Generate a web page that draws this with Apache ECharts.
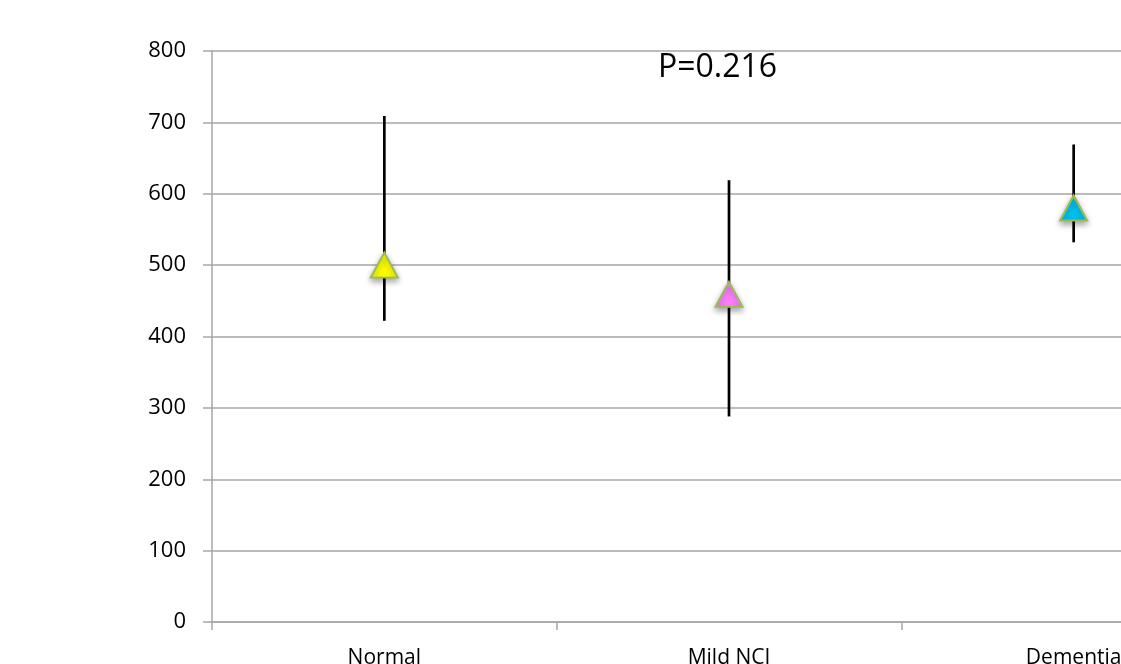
<!DOCTYPE html>
<html>
<head>
<meta charset="utf-8">
<script src="https://cdn.jsdelivr.net/npm/echarts@6/dist/echarts.min.js"></script>
<style>
  html, body { margin: 0; padding: 0; background: #fff; }
  #main { width: 1121px; height: 664px; }
</style>
</head>
<body>
<div id="main"></div>
<script>
var groups = ['Normal', 'Mild NCI', 'Dementia'];
var meanValues = [500, 459, 580];
var lowValues = [422, 288, 532];
var highValues = [709, 619, 669];
var markerColors = ['#ffff00', '#ff80ff', '#00c4f0'];
var yTicks = [0, 100, 200, 300, 400, 500, 600, 700, 800];

var chart = echarts.init(document.getElementById('main'));

var barData = groups.map(function (g, i) { return [i, lowValues[i], highValues[i]]; });
var pointData = groups.map(function (g, i) {
    return { value: [i, meanValues[i]], itemStyle: { color: markerColors[i] } };
});

var option = {
    animation: false,
    title: {
        text: 'P=0.216',
        left: 653,
        top: 47,
        textStyle: { fontFamily: 'Open Sans', fontSize: 32, fontWeight: 'normal', color: '#000' }
    },
    grid: { left: 212, top: 51, bottom: 42, width: 1034, outerBoundsMode: 'none', containLabel: false },
    xAxis: {
        type: 'category',
        data: groups,
        boundaryGap: true,
        axisLine: { lineStyle: { color: '#a6a6a6', width: 1.5 } },
        axisTick: { show: true, length: 8, lineStyle: { color: '#a6a6a6', width: 1.5 } },
        axisLabel: { margin: 26, fontFamily: 'Open Sans', fontSize: 21, color: '#000' },
        splitLine: { show: false }
    },
    yAxis: {
        type: 'value',
        min: yTicks[0],
        max: yTicks[yTicks.length - 1],
        interval: 100,
        axisLine: { show: true, lineStyle: { color: '#a6a6a6', width: 1.5 } },
        axisTick: { show: true, inside: false, length: 9, lineStyle: { color: '#a6a6a6', width: 1.5 } },
        axisLabel: { margin: 26, fontFamily: 'Open Sans', fontSize: 22, color: '#000' },
        splitLine: { lineStyle: { color: '#a6a6a6', width: 1.5 } }
    },
    series: [
        {
            type: 'custom',
            data: barData,
            z: 2,
            renderItem: function (params, api) {
                var p1 = api.coord([api.value(0), api.value(1)]);
                var p2 = api.coord([api.value(0), api.value(2)]);
                return {
                    type: 'line',
                    shape: { x1: p1[0], y1: p1[1], x2: p2[0], y2: p2[1] },
                    style: { stroke: '#000', lineWidth: 2.7 }
                };
            }
        },
        {
            type: 'scatter',
            data: pointData,
            z: 3,
            symbol: 'triangle',
            symbolSize: [27, 25],
            itemStyle: {
                opacity: 1,
                borderColor: '#9bbb59',
                borderWidth: 2,
                shadowBlur: 6,
                shadowOffsetY: 3,
                shadowColor: 'rgba(0,0,0,0.35)'
            }
        }
    ]
};

chart.setOption(option);
</script>
</body>
</html>
